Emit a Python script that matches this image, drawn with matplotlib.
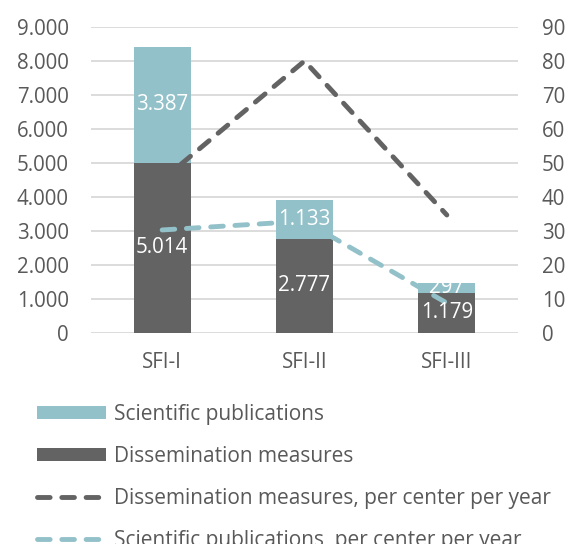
import matplotlib.pyplot as plt
from matplotlib.lines import Line2D
from matplotlib.patches import Patch

# data
categories = ['SFI-I', 'SFI-II', 'SFI-III']
dissemination = [5014, 2777, 1179]
publications = [3387, 1133, 297]
dissemination_labels = ['5.014', '2.777', '1.179']
publication_labels = ['3.387', '1.133', '297']
dissemination_per_center = [45.0, 80.0, 34.7]
publications_per_center = [30.3, 32.9, 8.8]

left_ticks = [0, 1000, 2000, 3000, 4000, 5000, 6000, 7000, 8000, 9000]
left_ticklabels = ['0', '1.000', '2.000', '3.000', '4.000', '5.000', '6.000', '7.000', '8.000', '9.000']
right_ticks = [0, 10, 20, 30, 40, 50, 60, 70, 80, 90]

LIGHT = '#93c1c9'
DARK = '#636363'
TXT = '#595959'
FS = 14.8
DASH = (2.6, 2.4)
LW = 3.5

plt.rcParams['font.family'] = ['Open Sans', 'DejaVu Sans']

fig = plt.figure(figsize=(5.7, 5.44), dpi=100)
ax = fig.add_axes([0.1596, 0.3879, 0.7492, 0.5625])
ax2 = ax.twinx()

x = list(range(len(categories)))
ax.bar(x, dissemination, width=0.4, color=DARK, zorder=2)
ax.bar(x, publications, width=0.4, bottom=dissemination, color=LIGHT, zorder=2)

ax.set_xlim(-0.5, 2.5)
ax.set_ylim(0, 9000)
ax.set_yticks(left_ticks)
ax.set_yticklabels(left_ticklabels)
ax.set_xticks(x)
ax.set_xticklabels(categories)
ax.grid(axis='y', color='#d9d9d9', linewidth=1.3, zorder=0)
ax.set_axisbelow(True)
for s in ax.spines.values():
    s.set_visible(False)
ax.tick_params(length=0, labelsize=FS, colors=TXT)
ax.tick_params(axis='y', pad=16)
ax.tick_params(axis='x', pad=14)

ax2.plot(x, dissemination_per_center, color=DARK, lw=LW, dashes=DASH,
         dash_capstyle='round', zorder=3)
ax2.plot(x, publications_per_center, color=LIGHT, lw=LW, dashes=DASH,
         dash_capstyle='round', zorder=3)
ax2.set_ylim(0, 90)
ax2.set_yticks(right_ticks)
for s in ax2.spines.values():
    s.set_visible(False)
ax2.tick_params(length=0, labelsize=FS, colors=TXT, pad=17)

# data labels centred in each segment
for i in x:
    ax2.text(i, dissemination[i] / 2, dissemination_labels[i], transform=ax.transData,
             ha='center', va='center', color='white', fontsize=FS, zorder=5)
    ax2.text(i, dissemination[i] + publications[i] / 2, publication_labels[i],
             transform=ax.transData, ha='center', va='center', color='white',
             fontsize=FS, zorder=5)

handles = [
    Patch(facecolor=LIGHT, edgecolor='none'),
    Patch(facecolor=DARK, edgecolor='none'),
    Line2D([], [], color=DARK, lw=LW, dashes=DASH, dash_capstyle='round'),
    Line2D([], [], color=LIGHT, lw=LW, dashes=DASH, dash_capstyle='round'),
]
labels = ['Scientific publications', 'Dissemination measures',
          'Dissemination measures, per center per year',
          'Scientific publications, per center per year']
leg = fig.legend(handles, labels, loc='upper left', bbox_to_anchor=(0.065, 0.257),
                 frameon=False, fontsize=15, handlelength=3.3, handleheight=0.6,
                 handletextpad=0.4, labelspacing=1.0, borderaxespad=0, borderpad=0)
for t in leg.get_texts():
    t.set_color(TXT)

fig.savefig('out.png', dpi=100)
